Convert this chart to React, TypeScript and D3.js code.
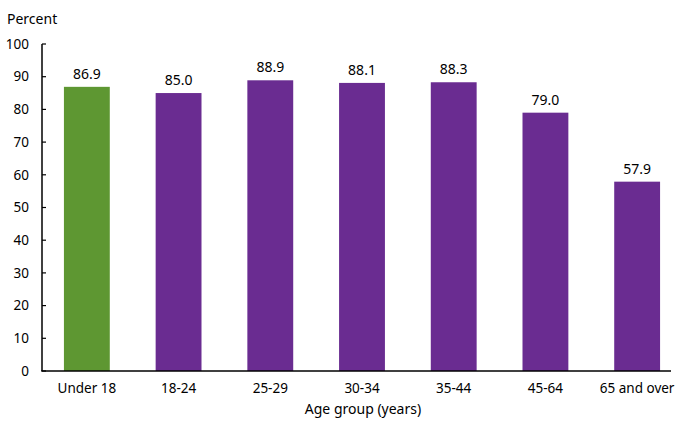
import * as d3 from 'd3';

const categories = ['Under 18', '18-24', '25-29', '30-34', '35-44', '45-64', '65 and over'];
const values = [86.9, 85.0, 88.9, 88.1, 88.3, 79.0, 57.9];
const yTicks = [0, 10, 20, 30, 40, 50, 60, 70, 80, 90, 100];

const W = 697;
const H = 421;
const font = '"Noto Sans", sans-serif';

const App = () => {
    const x = d3.scaleBand<string>().domain(categories).range([41, 683]).paddingInner(0.5).paddingOuter(0.25);
    const y = d3.scaleLinear().domain([0, 100]).range([371, 44]);

    return (
        <svg width={W} height={H} style={{ position: 'absolute', left: 0, top: 0 }} fontFamily={font}>
            <text x={7} y={24} fontSize={14} fill="#000">Percent</text>

            {/* y axis */}
            <line x1={42} x2={42} y1={y(100)} y2={y(0)} stroke="#000" strokeWidth={1.5} />
            {yTicks.map(t => (
                <g key={t}>
                    <line x1={42} x2={46} y1={y(t)} y2={y(t)} stroke="#000" strokeWidth={1.2} />
                    <text x={29} y={y(t)} dy="0.35em" textAnchor="end" fontSize={13.5}>{t}</text>
                </g>
            ))}

            {/* bars */}
            {categories.map((c, i) => (
                <g key={c}>
                    <rect
                        x={x(c)}
                        y={y(values[i])}
                        width={x.bandwidth()}
                        height={y(0) - y(values[i])}
                        fill={i === 0 ? '#5e9732' : '#6a2c91'}
                    />
                    <text x={(x(c) ?? 0) + x.bandwidth() / 2} y={y(values[i]) - 8} textAnchor="middle" fontSize={14}>
                        {values[i].toFixed(1)}
                    </text>
                    <text x={(x(c) ?? 0) + x.bandwidth() / 2} y={393} textAnchor="middle" fontSize={13.5}>{c}</text>
                </g>
            ))}

            {/* x axis */}
            <line x1={41.25} x2={671} y1={y(0)} y2={y(0)} stroke="#000" strokeWidth={1.5} />
            <text x={363} y={414} textAnchor="middle" fontSize={14}>Age group (years)</text>
        </svg>
    );
};

export default App;
